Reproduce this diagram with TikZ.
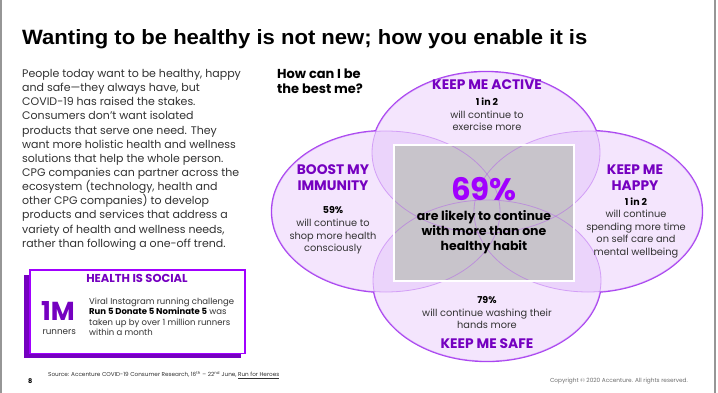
\documentclass[tikz,border=0pt]{standalone}
\usepackage{fontspec}
\setmainfont{Poppins}
\newfontfamily\titlefont{Liberation Sans}
\usepackage{graphicx}
\definecolor{accdark}{RGB}{117,0,192}
\definecolor{accbright}{RGB}{161,0,255}
\definecolor{ellline}{RGB}{170,70,240}
\definecolor{ellfill}{RGB}{244,229,253}
\definecolor{ellfilltwo}{RGB}{235,212,251}
\definecolor{boxgray}{RGB}{200,196,203}
\definecolor{bodytext}{RGB}{50,50,50}
\definecolor{framegray}{RGB}{150,150,150}
\definecolor{footgray}{RGB}{110,110,110}
\begin{document}
\begin{tikzpicture}[x=1pt,y=-1pt,
  bodyline/.style={inner sep=0pt, anchor=base west, text=bodytext, font=\fontsize{11}{13}\selectfont},
  etxt/.style={inner sep=0pt, anchor=base, text=bodytext, font=\fontsize{9.8}{11}\selectfont},
  estat/.style={inner sep=0pt, anchor=base, text=black, font=\fontsize{9.5}{11}\bfseries},
  ehead/.style={inner sep=0pt, anchor=base, text=accdark, font=\fontsize{13.8}{15}\bfseries},
  ctxt/.style={inner sep=0pt, anchor=base, text=black, font=\fontsize{12.5}{14}\bfseries},
  boxtxt/.style={inner sep=0pt, anchor=base west, text=bodytext, font=\fontsize{8.5}{10}\selectfont},
  ellstrong/.style={draw=ellline, line width=2.4pt},
  ellfaint/.style={draw=ellline, draw opacity=0.4, line width=0.8pt},
  ER/.style={x radius=114pt, y radius=80.5pt}
]
\useasboundingbox (0,0) rectangle (718,393);
\fill[white] (0,0) rectangle (718,393);
% page frame lines
\draw[framegray, line width=1.5pt] (1,0) -- (1,393);
\draw[framegray, line width=1.5pt] (715,0) -- (715,393);

% title
\node[inner sep=0pt, anchor=base west] (title) at (22,45)
  {\resizebox{565pt}{15pt}{\titlefont\bfseries Wanting to be healthy is not new; how you enable it is}};

% body text
\foreach \t [count=\i] in {
  {People today want to be healthy, happy},
  {and safe—they always have, but},
  {COVID-19 has raised the stakes.},
  {Consumers don’t want isolated},
  {products that serve one need. They},
  {want more holistic health and wellness},
  {solutions that help the whole person.},
  {CPG companies can partner across the},
  {ecosystem (technology, health and},
  {other CPG companies) to develop},
  {products and services that address a},
  {variety of health and wellness needs,},
  {rather than following a one-off trend.}}
  \node[bodyline] (body\i) at (22, 63.3+14.15*\i) {\t};

% Health is social box
\fill[accdark] (24,275) rectangle (240.7,358.3);
\node[draw=accbright, line width=1.5pt, fill=white, inner sep=0pt, anchor=north west,
      minimum width=214.7pt, minimum height=83.4pt] (socialbox) at (29.3,269.3) {};
\node[inner sep=0pt, anchor=base, text=accdark, font=\fontsize{11.5}{13}\bfseries] (socialhead) at (137,282.7) {HEALTH IS SOCIAL};
\node[inner sep=0pt, anchor=base, text=accdark, font=\fontsize{26}{28}\bfseries] (onem) at (58,320) {1M};
\node[inner sep=0pt, anchor=base, text=bodytext, font=\fontsize{8.8}{10}\selectfont] (runners) at (59.3,334) {runners};
\node[boxtxt] (soc1) at (89,304.3) {Viral Instagram running challenge};
\node[boxtxt] (soc2) at (89,314.6) {\textcolor{black}{\bfseries Run 5 Donate 5 Nominate 5} was};
\node[boxtxt] (soc3) at (89,325) {taken up by over 1 million runners};
\node[boxtxt] (soc4) at (89,335.3) {within a month};

% footer
\node[inner sep=0pt, anchor=base west, text=bodytext, font=\fontsize{5.7}{7}\selectfont] (source) at (48,376.7)
  {Source: Accenture COVID-19 Consumer Research, 16\textsuperscript{th} – 22\textsuperscript{nd} June, \underline{Run for Heroes}};
\node[inner sep=0pt, anchor=base west, text=black, font=\fontsize{6.5}{7}\bfseries] (pagenum) at (28,383) {8};
\node[inner sep=0pt, anchor=base east, text=footgray, font=\fontsize{5.8}{7}\selectfont] (copyright) at (688,382.7)
  {Copyright © 2020 Accenture. All rights reserved.};

% question
\node[inner sep=0pt, anchor=base west, text=black, font=\fontsize{13}{15}\bfseries] (q1) at (277,78.3) {How can I be};
\node[inner sep=0pt, anchor=base west, text=black, font=\fontsize{13}{15}\bfseries] (q2) at (277,94) {the best me?};

% ellipses
\coordinate (eTop) at (486,152.5);
\coordinate (eLeft) at (386,211.5);
\coordinate (eRight) at (588,211.5);
\coordinate (eBot) at (487,280.5);
\foreach \c in {eTop,eLeft,eRight,eBot}
  \draw[ellstrong] (\c) ellipse [ER];
\foreach \c in {eTop,eLeft,eRight,eBot}
  \fill[ellfill] (\c) ellipse [ER];
\foreach \a/\b in {eTop/eLeft,eTop/eRight,eTop/eBot,eLeft/eRight,eLeft/eBot,eRight/eBot}{
  \begin{scope}
    \clip (\a) ellipse [ER];
    \fill[ellfilltwo] (\b) ellipse [ER];
  \end{scope}}
\fill[boxgray] (394,145) rectangle (574,281);
\foreach \c in {eTop,eLeft,eRight,eBot}
  \draw[ellfaint] (\c) ellipse [ER];
\node[draw=white, line width=1.3pt, inner sep=0pt, minimum width=180pt, minimum height=136pt] (centerbox) at (484,213) {};

% top ellipse text
\node[ehead] (actHead) at (487,90) {KEEP ME ACTIVE};
\node[estat] (actStat) at (487,105.7) {1 in 2};
\node[etxt] (act1) at (487,118.3) {will continue to};
\node[etxt] (act2) at (487,130.7) {exercise more};

% left ellipse text
\node[ehead] (immHead1) at (333,175) {BOOST MY};
\node[ehead] (immHead2) at (333,191) {IMMUNITY};
\node[estat] (immStat) at (333,214) {59\%};
\node[etxt] (imm1) at (333,226.7) {will continue to};
\node[etxt] (imm2) at (333,239) {shop more health};
\node[etxt] (imm3) at (333,251.3) {consciously};

% right ellipse text
\node[ehead] (hapHead1) at (635,175) {KEEP ME};
\node[ehead] (hapHead2) at (635,191) {HAPPY};
\node[estat] (hapStat) at (636,205.7) {1 in 2};
\node[etxt] (hap1) at (636,218) {will continue};
\node[etxt] (hap2) at (636,230.4) {spending more time};
\node[etxt] (hap3) at (636,242.7) {on self care and};
\node[etxt] (hap4) at (636,255) {mental wellbeing};

% center text
\node[inner sep=0pt, anchor=base, text=accbright, font=\fontsize{31}{33}\bfseries] (pct) at (484,200.7) {69\%};
\node[ctxt] (c1) at (484,220.7) {are likely to continue};
\node[ctxt] (c2) at (484,236) {with more than one};
\node[ctxt] (c3) at (484,250.7) {healthy habit};

% bottom ellipse text
\node[estat] (safStat) at (487,303.3) {79\%};
\node[etxt] (saf1) at (487,316) {will continue washing their};
\node[etxt] (saf2) at (487,328.4) {hands more};
\node[ehead] (safHead) at (487,348.7) {KEEP ME SAFE};
\end{tikzpicture}
\end{document}
